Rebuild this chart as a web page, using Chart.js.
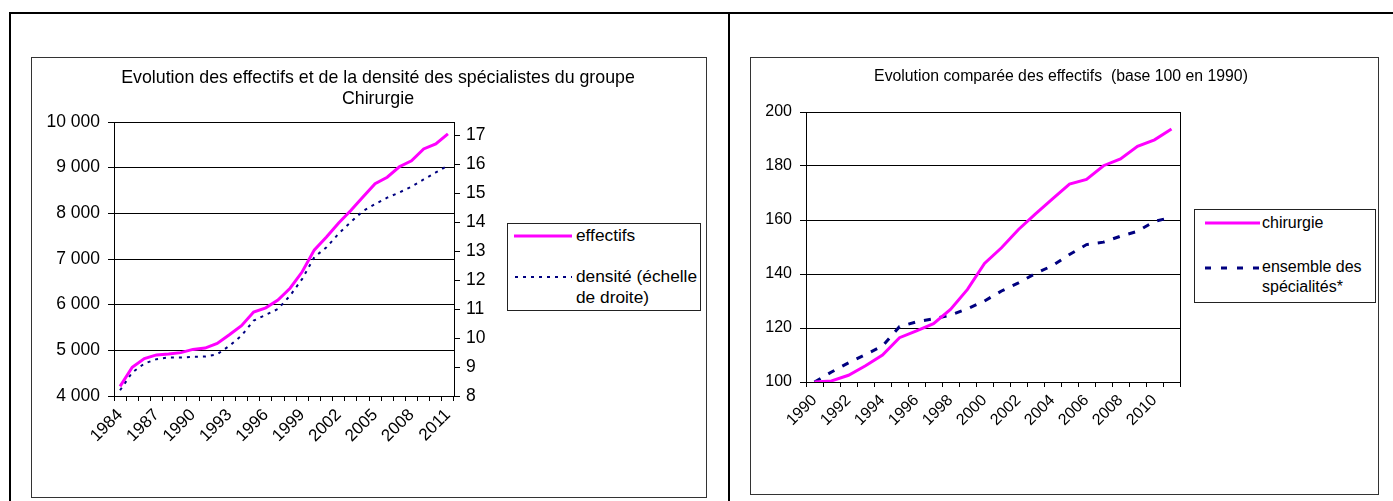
<!DOCTYPE html>
<html>
<head>
<meta charset="utf-8">
<script src="https://cdn.jsdelivr.net/npm/chart.js@4"></script>
<style>
  body { margin: 0; background: #fff; font-family: "Liberation Sans", Arial, sans-serif; color: #000; }
  #page { position: relative; width: 1393px; height: 501px; overflow: hidden; }
  .rule { position: absolute; background: #000; }
  .box { position: absolute; border: 1px solid #333; box-sizing: border-box; }
  .wrap { position: absolute; }
  .title { position: absolute; line-height: 21px; text-align: center; white-space: nowrap; transform: translateX(-50%); }
  .legend { position: absolute; border: 1px solid #222; box-sizing: border-box; background: #fff; line-height: 21px; }
  .legend svg, .legend span { position: absolute; white-space: nowrap; }
</style>
</head>
<body>
<div id="page">
  <div class="rule" style="left:9px;top:12px;width:1384px;height:2px"></div>
  <div class="rule" style="left:9px;top:12px;width:2px;height:489px"></div>
  <div class="rule" style="left:728px;top:12px;width:2px;height:489px"></div>

  <div class="box" style="left:31px;top:57px;width:676px;height:441px"></div>
  <div class="box" style="left:750px;top:57px;width:629px;height:438px"></div>

  <div class="wrap" style="left:32px;top:58px;width:673px;height:438px"><canvas id="leftChart"></canvas></div>
  <div class="wrap" style="left:751px;top:58px;width:626px;height:435px"><canvas id="rightChart"></canvas></div>

  <div class="title" style="left:378px;top:67px;font-size:17.8px">Evolution des effectifs et de la densité des spécialistes du groupe<br>Chirurgie</div>
  <div class="title" style="left:1061px;top:65px;font-size:15.8px">Evolution comparée des effectifs&nbsp; (base 100 en 1990)</div>

  <div class="legend" style="left:507px;top:223px;width:194px;height:88px;font-size:17.3px">
    <svg style="left:6px;top:10px" width="58" height="4"><line x1="0" y1="2" x2="58" y2="2" stroke="#ff00ff" stroke-width="3"/></svg>
    <span style="left:68px;top:1px">effectifs</span>
    <svg style="left:6px;top:51px" width="58" height="4"><line x1="1" y1="2" x2="58" y2="2" stroke="#000080" stroke-width="2" stroke-dasharray="3 5"/></svg>
    <span style="left:68px;top:42px">densité (échelle<br>de droite)</span>
  </div>

  <div class="legend" style="left:1194px;top:209px;width:182px;height:94px;font-size:16px">
    <svg style="left:10px;top:11px" width="55" height="4"><line x1="0" y1="2" x2="55" y2="2" stroke="#ff00ff" stroke-width="3"/></svg>
    <span style="left:67px;top:2px">chirurgie</span>
    <svg style="left:10px;top:56px" width="55" height="4"><line x1="0" y1="2" x2="55" y2="2" stroke="#000080" stroke-width="3" stroke-dasharray="6 10"/></svg>
    <span style="left:67px;top:47px;line-height:20px">ensemble des<br>spécialités*</span>
  </div>
</div>

<script>
// left chart: effectifs + densite
const leftYears = ["1984", "1985", "1986", "1987", "1988", "1989", "1990", "1991", "1992", "1993",
  "1994", "1995", "1996", "1997", "1998", "1999", "2000", "2001", "2002", "2003",
  "2004", "2005", "2006", "2007", "2008", "2009", "2010", "2011"];
const effectifs = [4210, 4630, 4820, 4900, 4920, 4950, 5020, 5050, 5150, 5340,
  5540, 5840, 5930, 6100, 6360, 6720, 7200, 7480, 7790, 8060,
  8360, 8650, 8790, 9020, 9150, 9410, 9520, 9740];
const densite = [8.2, 8.81, 9.12, 9.27, 9.33, 9.33, 9.35, 9.36, 9.44, 9.73,
  10.08, 10.6, 10.8, 11.0, 11.46, 12.04, 12.79, 13.13, 13.6, 14.0,
  14.38, 14.62, 14.84, 15.02, 15.22, 15.47, 15.71, 15.95];
const effectifsTicks = [4000, 5000, 6000, 7000, 8000, 9000, 10000];
const densiteTicks = [8, 9, 10, 11, 12, 13, 14, 15, 16, 17];
const densiteMax = 17.45;

// right chart: base 100 in 1990
const rightYears = ["1990", "1991", "1992", "1993", "1994", "1995", "1996", "1997", "1998", "1999",
  "2000", "2001", "2002", "2003", "2004", "2005", "2006", "2007", "2008", "2009",
  "2010", "2011"];
const chirurgie = [100, 100.4, 102.5, 106, 110, 116.4, 118.9, 121.6, 126.9, 134.3,
  143.9, 149.7, 156.5, 162.3, 167.8, 173.3, 175, 180.1, 182.6, 187.3,
  189.7, 193.7];
const ensemble = [100, 103.7, 107.1, 110.2, 113.3, 120.5, 122.3, 123.4, 124.8, 127.1,
  130, 133.7, 136.7, 140.2, 143.1, 147.2, 150.9, 151.8, 154, 155.8,
  159.5, 161];
const indexTicks = [100, 120, 140, 160, 180, 200];

Chart.defaults.font.family = '"Liberation Sans", Arial, sans-serif';
Chart.defaults.font.size = 16;
Chart.defaults.color = "#000";
Chart.defaults.animation = false;

function spaced(v) {
  return String(v).replace(/\B(?=(\d{3})+(?!\d))/g, " ");
}

function fixedTicks(list) {
  return (scale) => {
    scale.ticks = list.map((v) => ({ value: v }));
  };
}

function yearAxis(every, height, size) {
  return {
    type: "category",
    offset: true,
    grid: { offset: true, drawOnChartArea: false, drawTicks: true, tickLength: 5, color: "#000" },
    border: { display: true, color: "#000" },
    ticks: {
      autoSkip: false,
      minRotation: 45,
      maxRotation: 45,
      padding: 4,
      font: { size: size },
      callback: function (val, i) {
        return i % every === 0 ? this.getLabelForValue(val) : "";
      },
    },
    afterFit: (scale) => { scale.height = height; },
  };
}

// draws the right edge of the plot box
const plotFrame = {
  id: "plotFrame",
  afterDraw(chart) {
    const { ctx, chartArea } = chart;
    ctx.save();
    ctx.strokeStyle = "#000";
    ctx.lineWidth = 1;
    ctx.beginPath();
    ctx.moveTo(Math.round(chartArea.right) + 0.5, chartArea.top);
    ctx.lineTo(Math.round(chartArea.right) + 0.5, chartArea.bottom);
    ctx.stroke();
    ctx.restore();
  },
};

new Chart(document.getElementById("leftChart"), {
  type: "line",
  data: {
    labels: leftYears,
    datasets: [
      {
        label: "effectifs",
        data: effectifs,
        yAxisID: "y",
        borderColor: "#ff00ff",
        borderWidth: 3,
        pointRadius: 0,
        tension: 0,
      },
      {
        label: "densité (échelle de droite)",
        data: densite,
        yAxisID: "y2",
        borderColor: "#000080",
        borderWidth: 2,
        borderDash: [3, 5],
        pointRadius: 0,
        tension: 0,
      },
    ],
  },
  options: {
    responsive: true,
    maintainAspectRatio: false,
    layout: { padding: { top: 64, left: 0, right: 0, bottom: 0 } },
    plugins: { legend: { display: false }, tooltip: { enabled: false } },
    scales: {
      x: yearAxis(3, 100, 17),
      y: {
        position: "left",
        min: effectifsTicks[0],
        max: effectifsTicks[effectifsTicks.length - 1],
        afterBuildTicks: fixedTicks(effectifsTicks),
        grid: { color: "#000", tickLength: 6 },
        border: { display: true, color: "#000" },
        ticks: { padding: 8, font: { size: 17.5 }, callback: (v) => spaced(v) },
        afterFit: (scale) => { scale.width = 82; },
      },
      y2: {
        position: "right",
        min: densiteTicks[0],
        max: densiteMax,
        afterBuildTicks: fixedTicks(densiteTicks),
        grid: { drawOnChartArea: false, color: "#000", tickLength: 6 },
        border: { display: true, color: "#000" },
        ticks: { padding: 6, font: { size: 17.5 } },
        afterFit: (scale) => { scale.width = 251; },
      },
    },
  },
});

new Chart(document.getElementById("rightChart"), {
  type: "line",
  data: {
    labels: rightYears,
    datasets: [
      {
        label: "chirurgie",
        data: chirurgie,
        borderColor: "#ff00ff",
        borderWidth: 3,
        pointRadius: 0,
        tension: 0,
      },
      {
        label: "ensemble des spécialités*",
        data: ensemble,
        borderColor: "#000080",
        borderWidth: 3,
        borderDash: [7, 9],
        pointRadius: 0,
        tension: 0,
      },
    ],
  },
  options: {
    responsive: true,
    maintainAspectRatio: false,
    layout: { padding: { top: 54, left: 0, right: 197, bottom: 0 } },
    plugins: { legend: { display: false }, tooltip: { enabled: false } },
    scales: {
      x: yearAxis(2, 111, 16),
      y: {
        min: indexTicks[0],
        max: indexTicks[indexTicks.length - 1],
        afterBuildTicks: fixedTicks(indexTicks),
        grid: { color: "#000", tickLength: 6 },
        border: { display: true, color: "#000" },
        ticks: { padding: 8 },
        afterFit: (scale) => { scale.width = 55; },
      },
    },
  },
  plugins: [plotFrame],
});
</script>
</body>
</html>
